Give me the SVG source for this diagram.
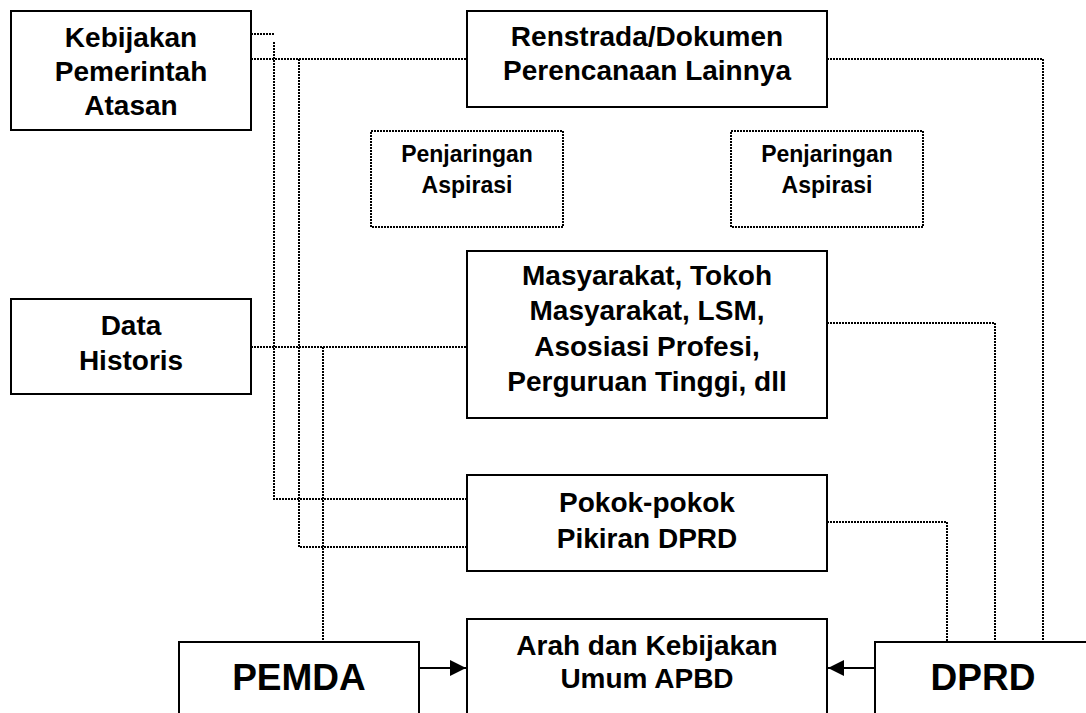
<svg xmlns="http://www.w3.org/2000/svg" width="1086" height="713" viewBox="0 0 1086 713">
<style>
.box{fill:#fff;stroke:#000;stroke-width:2}
.dbox{fill:#fff;stroke:#000;stroke-width:2;stroke-dasharray:2 1}
.dot{fill:none;stroke:#000;stroke-width:2;stroke-dasharray:2 1}
.arr{fill:none;stroke:#000;stroke-width:2}
text{font-family:"Liberation Sans",Arial,sans-serif;font-weight:bold;fill:#000;text-anchor:middle}
.t{font-size:28px}
.s{font-size:23px}
.b{font-size:37px}
</style>
<defs>
<marker id="ah" markerWidth="17" markerHeight="16" refX="16" refY="8" orient="auto" markerUnits="userSpaceOnUse">
<path d="M0,0 L16,8 L0,16 Z" fill="#000"/>
</marker>
</defs>
<rect width="1086" height="713" fill="#fff"/>
<g id="connectors">
<path class="dot" d="M251,34 H274"/>
<path class="dot" d="M274,42 V499 H467"/>
<path class="dot" d="M251,59 H467"/>
<path class="dot" d="M299,59 V547 H467"/>
<path class="dot" d="M827,59 H1043 V642"/>
<path class="dot" d="M251,347 H467"/>
<path class="dot" d="M323,347 V642"/>
<path class="dot" d="M827,323 H995 V642"/>
<path class="dot" d="M827,522 H947 V642"/>
<path class="arr" d="M419,668 H466" marker-end="url(#ah)"/>
<path class="arr" d="M875,668 H828" marker-end="url(#ah)"/>
</g>
<g id="kebijakan">
<rect class="box" x="11" y="11" width="240" height="119"/>
<text class="t" x="131" y="47">Kebijakan</text>
<text class="t" x="131" y="81">Pemerintah</text>
<text class="t" x="131" y="115">Atasan</text>
</g>
<g id="renstrada">
<rect class="box" x="467" y="11" width="360" height="96"/>
<text class="t" x="647" y="46">Renstrada/Dokumen</text>
<text class="t" x="647" y="80">Perencanaan Lainnya</text>
</g>
<g id="penjaringan1">
<rect class="dbox" x="371" y="131" width="192" height="96"/>
<text class="s" x="467" y="162">Penjaringan</text>
<text class="s" x="467" y="193">Aspirasi</text>
</g>
<g id="penjaringan2">
<rect class="dbox" x="731" y="131" width="192" height="96"/>
<text class="s" x="827" y="162">Penjaringan</text>
<text class="s" x="827" y="193">Aspirasi</text>
</g>
<g id="data-historis">
<rect class="box" x="11" y="299" width="240" height="95"/>
<text class="t" x="131" y="335">Data</text>
<text class="t" x="131" y="370">Historis</text>
</g>
<g id="masyarakat">
<rect class="box" x="467" y="251" width="360" height="167"/>
<text class="t" x="647" y="285">Masyarakat, Tokoh</text>
<text class="t" x="647" y="320">Masyarakat, LSM,</text>
<text class="t" x="647" y="356">Asosiasi Profesi,</text>
<text class="t" x="647" y="391">Perguruan Tinggi, dll</text>
</g>
<g id="pokok">
<rect class="box" x="467" y="475" width="360" height="96"/>
<text class="t" x="647" y="512">Pokok-pokok</text>
<text class="t" x="647" y="548">Pikiran DPRD</text>
</g>
<g id="arah">
<rect class="box" x="467" y="619" width="360" height="120"/>
<text class="t" x="647" y="655">Arah dan Kebijakan</text>
<text class="t" x="647" y="688">Umum APBD</text>
</g>
<g id="pemda">
<rect class="box" x="179" y="642" width="240" height="100"/>
<text class="b" x="299" y="690">PEMDA</text>
</g>
<g id="dprd">
<rect class="box" x="875" y="642" width="240" height="100"/>
<text class="b" x="983" y="690">DPRD</text>
</g>
</svg>
